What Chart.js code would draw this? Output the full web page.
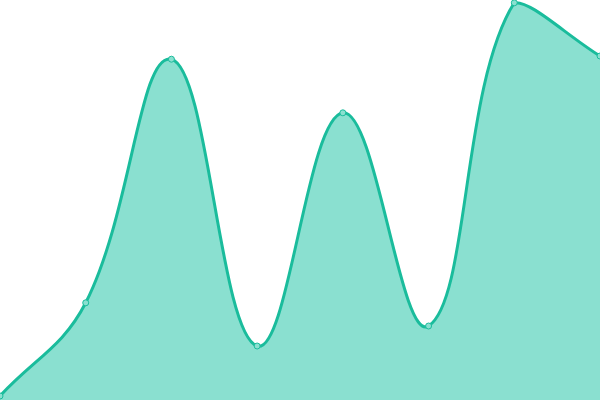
<!DOCTYPE html>
<html lang="en">
<head>
    <meta charset="UTF-8">
    <title>Area Chart</title>
    <style>
        html, body { margin: 0; padding: 0; background: #fff; }
        #wrap { width: 600px; height: 400px; }
    </style>
</head>
<body>
    <div id="wrap"><canvas id="areaChart"></canvas></div>
    <script src="https://cdn.jsdelivr.net/npm/chart.js"></script>
    <script>
        // Values (scale 0-100)
        const labels = ['1', '2', '3', '4', '5', '6', '7', '8'];
        const values = [1, 24.3, 85.2, 13.5, 71.8, 18.5, 99.3, 86];

        const ctx = document.getElementById('areaChart').getContext('2d');
        new Chart(ctx, {
            type: 'line',
            data: {
                labels: labels,
                datasets: [{
                    data: values,
                    borderColor: '#1abc9c',
                    backgroundColor: '#8ae0d0',
                    borderWidth: 3,
                    fill: 'origin',
                    tension: 0.4,
                    pointRadius: 3,
                    pointBorderWidth: 1,
                    pointBackgroundColor: '#8ae0d0',
                    pointBorderColor: '#1abc9c'
                }]
            },
            options: {
                responsive: true,
                maintainAspectRatio: false,
                animation: false,
                layout: { padding: 0, autoPadding: false },
                plugins: { legend: { display: false }, tooltip: { enabled: false } },
                scales: {
                    x: { display: false, offset: false },
                    y: { display: false, min: 0, max: 100 }
                }
            }
        });
    </script>
</body>
</html>
